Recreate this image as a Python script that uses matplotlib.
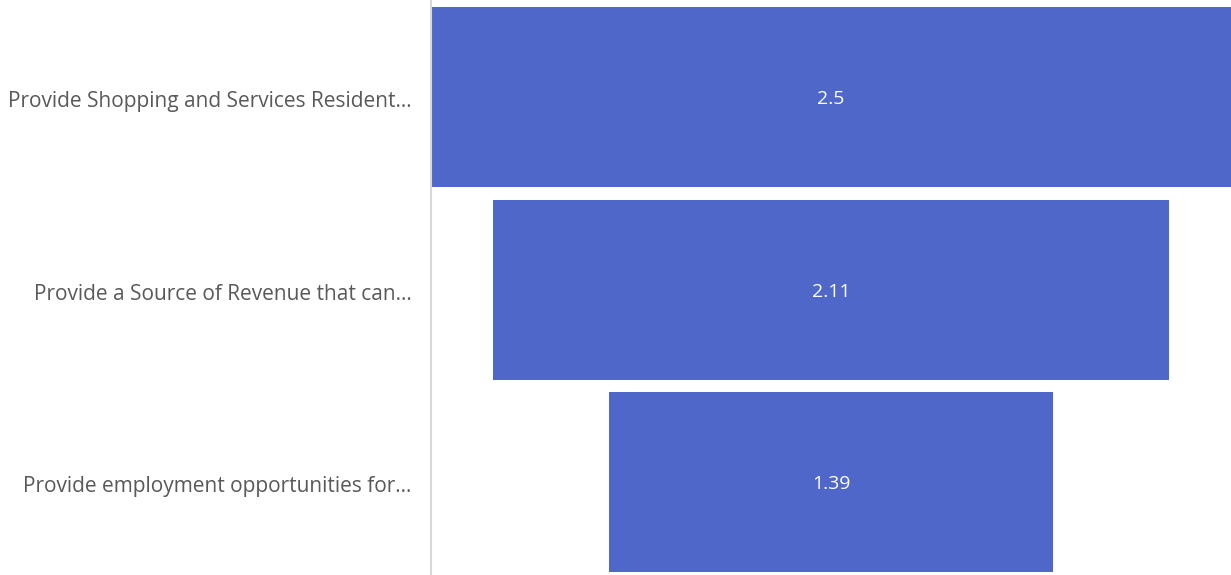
import numpy as np
import matplotlib.pyplot as plt

categories = [
    "Provide Shopping and Services Resident\u2026",
    "Provide a Source of Revenue that can\u2026",
    "Provide employment opportunities for\u2026",
]
values = [2.5, 2.11, 1.39]

plt.rcParams['font.family'] = ['Open Sans', 'DejaVu Sans']

fig = plt.figure(figsize=(12.31, 5.75), dpi=100)
ax = fig.add_axes([431 / 1231, 0, 800 / 1231, 1])

y = np.arange(len(values))
vals = np.array(values)
ax.barh(y, vals, left=-vals / 2, height=0.934, color='#4F67C8')

for yi, v in zip(y, values):
    ax.text(0, yi + 0.01, f"{v:g}", ha='center', va='center', color='white', fontsize=14)

ax.set_xlim(-1.25, 1.25)
ax.set_ylim(2.48, -0.503)
ax.set_yticks(y + 0.01)
ax.set_yticklabels(categories, fontsize=15, color='#595959')
ax.tick_params(axis='y', length=0, pad=14)
ax.set_xticks([])
for s in ['top', 'right', 'bottom']:
    ax.spines[s].set_visible(False)
ax.spines['left'].set_color('#D9D9D9')
ax.spines['left'].set_linewidth(1.5)

fig.savefig('out.png', dpi=100)
